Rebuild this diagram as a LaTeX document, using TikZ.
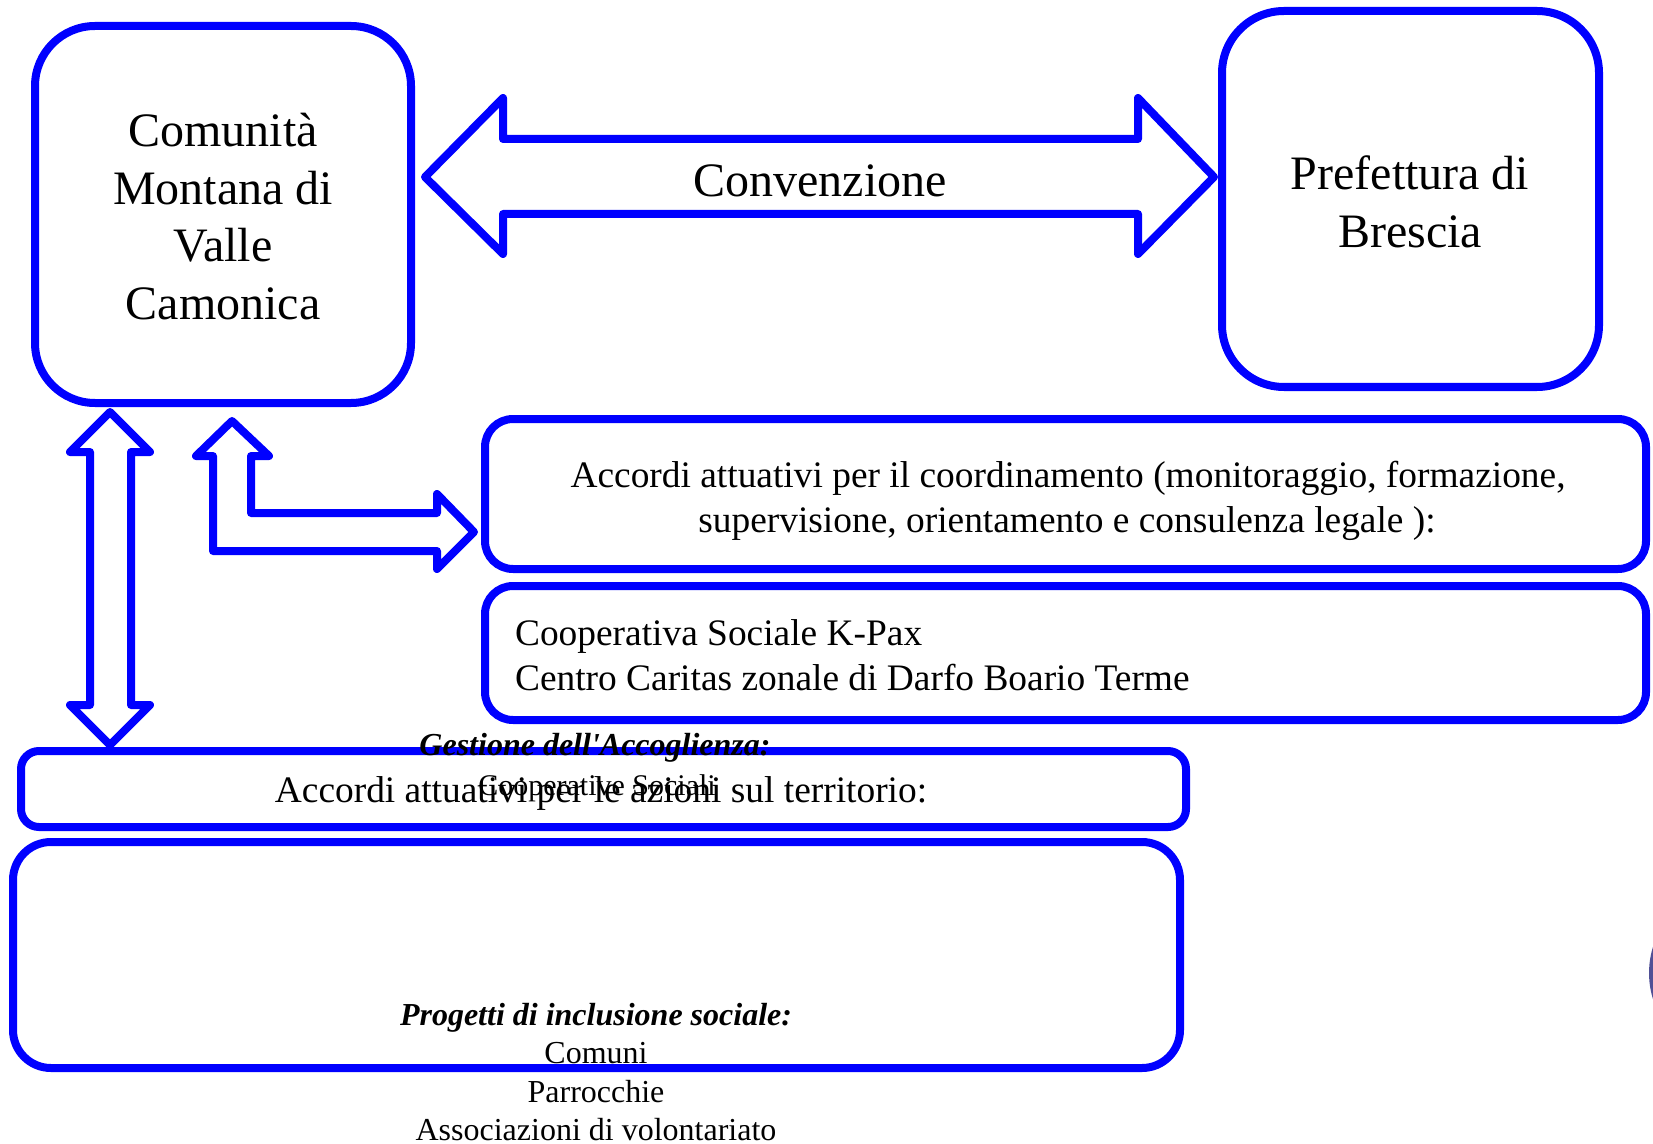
\documentclass[tikz,border=0pt]{standalone}
\usepackage{amsmath}
\usepackage{amssymb}
\usepackage{fontspec}
\setmainfont{Liberation Serif}[Ligatures=TeXOff]
\usepackage{tikz}

\begin{document}
\begin{tikzpicture}[x=0.5pt,y=0.5pt,yscale=-1,xscale=1,
  bluebox/.style={draw={rgb, 255:red, 0; green, 0; blue, 255 }, line width=4pt},
  bluearrow/.style={draw={rgb, 255:red, 0; green, 0; blue, 255 }, line width=4pt, line join=round},
  bigtext/.style={anchor=base, font=\fontsize{24}{29}\selectfont},
  midtext/.style={anchor=base, font=\fontsize{18.7}{22.5}\selectfont},
  smalltext/.style={anchor=base, font=\fontsize{16}{19}\selectfont}]
\useasboundingbox (0,0) rectangle (1653,1144);
%Rounded Rect
\draw [bluebox, rounded corners=30pt] (35,26) rectangle (411,403) ;
%Rounded Rect
\draw [bluebox, rounded corners=31pt] (1222,11) rectangle (1599,387) ;
%Rounded Rect
\draw [bluebox, rounded corners=14pt] (485,419) rectangle (1646,569) ;
%Rounded Rect
\draw [bluebox, rounded corners=14pt] (485,586) rectangle (1646,720) ;
%Rounded Rect
\draw [bluebox, rounded corners=9pt] (21,751) rectangle (1186,827) ;
%Rounded Rect
\draw [bluebox, rounded corners=19pt] (13,842) rectangle (1180,1068) ;
%Left Right Arrow
\draw [bluearrow] (425,177) -- (503,98) -- (503,139) -- (1138,139) -- (1138,98) -- (1214,177) -- (1138,254) -- (1138,214) -- (503,214) -- (503,254) -- cycle ;
%Up Down Arrow
\draw [bluearrow] (110,412) -- (150,452) -- (131,452) -- (131,705) -- (150,705) -- (110,745) -- (70,705) -- (90,705) -- (90,452) -- (70,452) -- cycle ;
%Bent Up Arrow
\draw [bluearrow] (232,421) -- (269,456) -- (251,456) -- (251,513) -- (437,513) -- (437,494) -- (474,532) -- (437,569) -- (437,551) -- (213,551) -- (213,456) -- (196,456) -- cycle ;
%Shape: Circle
\begin{scope}
\clip (0,0) rectangle (1653,1144);
\fill [color={rgb, 255:red, 80; green, 80; blue, 150 }] (1737,973) circle [radius=44pt] ;
\end{scope}
% Text Node
\node (cm1) [bigtext] at (223,147) {Comunità};
% Text Node
\node (cm2) [bigtext] at (223,204.5) {Montana di};
% Text Node
\node (cm3) [bigtext] at (223,262) {Valle};
% Text Node
\node (cm4) [bigtext] at (223,319.5) {Camonica};
% Text Node
\node (pf1) [bigtext] at (1410,190) {Prefettura di};
% Text Node
\node (pf2) [bigtext] at (1410,248) {Brescia};
% Text Node
\node (conv) [bigtext] at (820,197) {Convenzione};
% Text Node
\node (coord1) [midtext] at (1068,487) {Accordi attuativi per il coordinamento (monitoraggio, formazione,};
% Text Node
\node (coord2) [midtext] at (1067,532) {supervisione, orientamento e consulenza legale ):};
% Text Node
\node (coop1) [midtext, anchor=base west] at (508,645) {Cooperativa Sociale K-Pax};
% Text Node
\node (coop2) [midtext, anchor=base west] at (508,690) {Centro Caritas zonale di Darfo Boario Terme};
% Text Node
\node (terr) [midtext] at (601,802) {Accordi attuativi per le azioni sul territorio:};
% Text Node
\node (gest) [smalltext] at (595,755) {\textbf{\textit{Gestione dell'Accoglienza:}}};
% Text Node
\node (coops) [smalltext, font=\fontsize{15}{18}\selectfont] at (597,795) {Cooperative Sociali};
% Text Node
\node (prog) [smalltext] at (596,1025) {\textbf{\textit{Progetti di inclusione sociale:}}};
% Text Node
\node (com) [smalltext] at (596,1063) {Comuni};
% Text Node
\node (parr) [smalltext] at (596,1102) {Parrocchie};
% Text Node
\node (assoc) [smalltext] at (596,1140) {Associazioni di volontariato};
\end{tikzpicture}
\end{document}
